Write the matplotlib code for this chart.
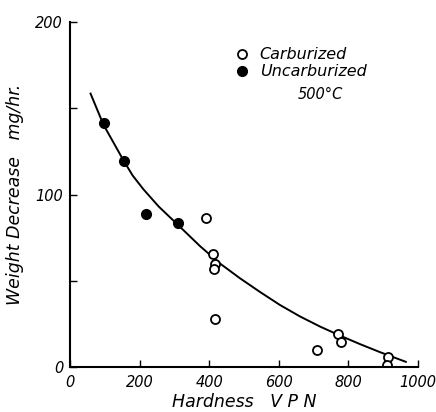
import numpy as np
import matplotlib
matplotlib.use('Agg')
import matplotlib.pyplot as plt

# data
carb_x = [390, 410, 417, 414, 417, 711, 770, 778, 914, 912]
carb_y = [86.4, 65.5, 59.6, 56.7, 27.9, 9.9, 19.1, 14.6, 5.8, 1.0]

uncarb_x = [99, 155, 219, 311]
uncarb_y = [141.5, 119.5, 88.5, 83.6]

# fitted curve, points
curve_x = [59, 96, 153, 180, 211, 255, 307, 374, 431, 488, 546, 603, 661, 718, 776, 833, 891, 965]
curve_y = [158.5, 140.5, 120, 111, 103, 93, 83, 70, 60, 51.5, 43.5, 36, 29.3, 23.5, 18.2, 13.3, 8.6, 3]

fig = plt.figure(figsize=(4.36, 4.12), dpi=100)
ax = fig.add_axes([0.1606, 0.1092, 0.7981, 0.8374])

ax.plot(curve_x, curve_y, color='black', lw=1.4)
p1, = ax.plot(carb_x, carb_y, 'o', ms=6.5, mfc='white', mec='black', mew=1.3,
              linestyle='none', label='Carburized')
p2, = ax.plot(uncarb_x, uncarb_y, 'o', ms=7, mfc='black', mec='black',
              linestyle='none', label='Uncarburized')

ax.set_xlim(0, 1000)
ax.set_ylim(0, 200)
ax.spines['top'].set_visible(False)
ax.spines['right'].set_visible(False)
ax.spines['left'].set_linewidth(1.5)
ax.spines['bottom'].set_linewidth(1.5)

ax.set_xticks([0, 200, 400, 600, 800, 1000])
ax.set_yticks([0, 100, 200])
ax.set_yticks([50, 150], minor=True)
ax.tick_params(axis='both', which='both', direction='in', length=5, width=1)
ax.tick_params(axis='x', pad=6)
ax.tick_params(axis='y', pad=5)
for lab in ax.get_xticklabels() + ax.get_yticklabels():
    lab.set_fontstyle('italic')
    lab.set_fontsize(10.5)

ax.set_xlabel('Hardness   V P N', fontsize=12.5, style='italic', labelpad=2)
ax.set_ylabel('Weight Decrease   mg/hr.', fontsize=12.5, style='italic', labelpad=8)

leg = ax.legend(handles=[p1, p2], loc='upper left', bbox_to_anchor=(0.43, 0.968),
                frameon=False, numpoints=1, handlelength=1.0, handletextpad=0.6,
                labelspacing=0.12, prop={'style': 'italic', 'size': 11.5})
ax.text(0.655, 0.79, '500°C', transform=ax.transAxes, fontsize=10.5,
        style='italic', ha='left', va='center')

fig.savefig('out.png', dpi=100)
